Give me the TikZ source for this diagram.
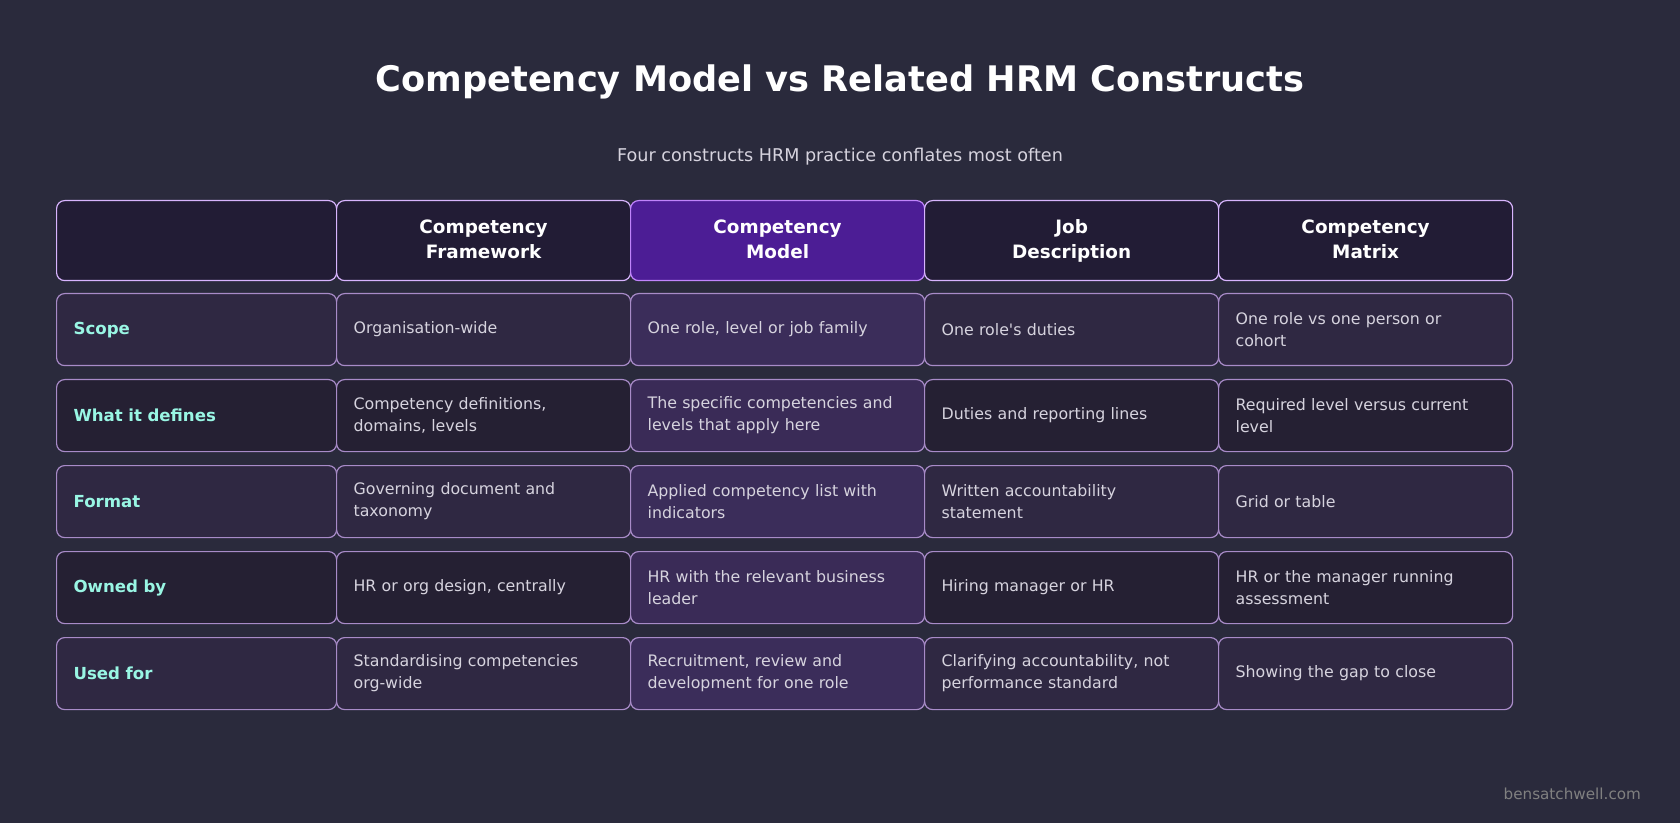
\documentclass[tikz,border=0pt]{standalone}
\usepackage{fontspec}
\setmainfont{DejaVu Sans}
\usetikzlibrary{positioning}
\definecolor{bg}{HTML}{2A2A3C}
\definecolor{hdfill}{HTML}{221C35}
\definecolor{hdline}{HTML}{D8B4FE}
\definecolor{hlfill}{HTML}{4C1D95}
\definecolor{hlline}{HTML}{C084FC}
\definecolor{rowA}{HTML}{2F2842}
\definecolor{rowB}{HTML}{252033}
\definecolor{hlA}{HTML}{3B2D5A}
\definecolor{hlB}{HTML}{3A2B57}
\definecolor{cellline}{HTML}{A88BC8}
\definecolor{bodytext}{HTML}{D6D3DE}
\definecolor{labeltext}{HTML}{99F6E4}
\newcommand{\hs}[1]{\strut#1}
\hyphenpenalty=10000
\exhyphenpenalty=10000
\tikzset{
  px/.style={x=0.5pt,y=-0.5pt},
  base/.style={anchor=north west,rounded corners=4pt,line width=0.6pt,inner ysep=0pt,inner xsep=8.5pt},
  head/.style={base,fill=hdfill,draw=hdline,minimum height=40pt,text width=#1,align=center,
    font=\fontsize{9.2}{12.5}\selectfont\bfseries,text=white},
  headhl/.style={head=#1,fill=hlfill,draw=hlline},
  cellA/.style={base,fill=rowA,draw=cellline,minimum height=36pt,text width=#1,align=left,
    font=\fontsize{7.9}{11}\selectfont,text=bodytext},
  cellB/.style={cellA=#1,fill=rowB},
  hlcellA/.style={cellA=#1,fill=hlA},
  hlcellB/.style={cellA=#1,fill=hlB},
  lab/.style={text=labeltext,font=\fontsize{8.3}{11}\selectfont\bfseries}
}
\begin{document}
\begin{tikzpicture}[px]
  \fill[bg] (0,0) rectangle (1680,823);
  \node (title) at (840,82) {\fontsize{17.6}{22}\selectfont\bfseries\color{white}Competency Model vs Related HRM Constructs};
  \node (sub) at (840,157) {\fontsize{8.8}{11}\selectfont\color{bodytext}Four constructs HRM practice conflates most often};
  % header row
  \node[head=123pt] (h0) at (56,200) {};
  \node[head=130pt] (h1) at (336,200) {\hs{Competency}\\\hs{Framework}};
  \node[headhl=130pt] (h2) at (630,200) {\hs{Competency}\\\hs{Model}};
  \node[head=130pt] (h3) at (924,200) {\hs{Job}\\\hs{Description}};
  \node[head=130pt] (h4) at (1218,200) {\hs{Competency}\\\hs{Matrix}};
  % Scope
  \node[cellA=123pt,lab] (r1c0) at (56,293) {Scope};
  \node[cellA=130pt] (r1c1) at (336,293) {Organisation-wide};
  \node[hlcellA=130pt] (r1c2) at (630,293) {One role, level or job family};
  \node[cellA=130pt] (r1c3) at (924,293) {One role\textquotesingle s duties};
  \node[cellA=130pt] (r1c4) at (1218,293) {One role vs one person or cohort};
  % What it defines
  \node[cellB=123pt,lab] (r2c0) at (56,379) {What it defines};
  \node[cellB=130pt] (r2c1) at (336,379) {Competency definitions, domains, levels};
  \node[hlcellB=130pt] (r2c2) at (630,379) {The specific competencies and levels that apply here};
  \node[cellB=130pt] (r2c3) at (924,379) {Duties and reporting lines};
  \node[cellB=130pt] (r2c4) at (1218,379) {Required level versus current level};
  % Format
  \node[cellA=123pt,lab] (r3c0) at (56,465) {Format};
  \node[cellA=130pt] (r3c1) at (336,465) {Governing document and taxonomy};
  \node[hlcellA=130pt] (r3c2) at (630,465) {Applied competency list with indicators};
  \node[cellA=130pt] (r3c3) at (924,465) {Written accountability statement};
  \node[cellA=130pt] (r3c4) at (1218,465) {Grid or table};
  % Owned by
  \node[cellB=123pt,lab] (r4c0) at (56,551) {Owned by};
  \node[cellB=130pt] (r4c1) at (336,551) {HR or org design, centrally};
  \node[hlcellB=130pt] (r4c2) at (630,551) {HR with the relevant business leader};
  \node[cellB=130pt] (r4c3) at (924,551) {Hiring manager or HR};
  \node[cellB=130pt] (r4c4) at (1218,551) {HR or the manager running assessment};
  % Used for
  \node[cellA=123pt,lab] (r5c0) at (56,637) {Used for};
  \node[cellA=130pt] (r5c1) at (336,637) {Standardising competencies org-wide};
  \node[hlcellA=130pt] (r5c2) at (630,637) {Recruitment, review and development for one role};
  \node[cellA=130pt] (r5c3) at (924,637) {Clarifying accountability, not performance standard};
  \node[cellA=130pt] (r5c4) at (1218,637) {Showing the gap to close};
  \node[anchor=east] (credit) at (1648,794) {\fontsize{7.6}{10}\selectfont\color{gray}bensatchwell.com};
\end{tikzpicture}
\end{document}
